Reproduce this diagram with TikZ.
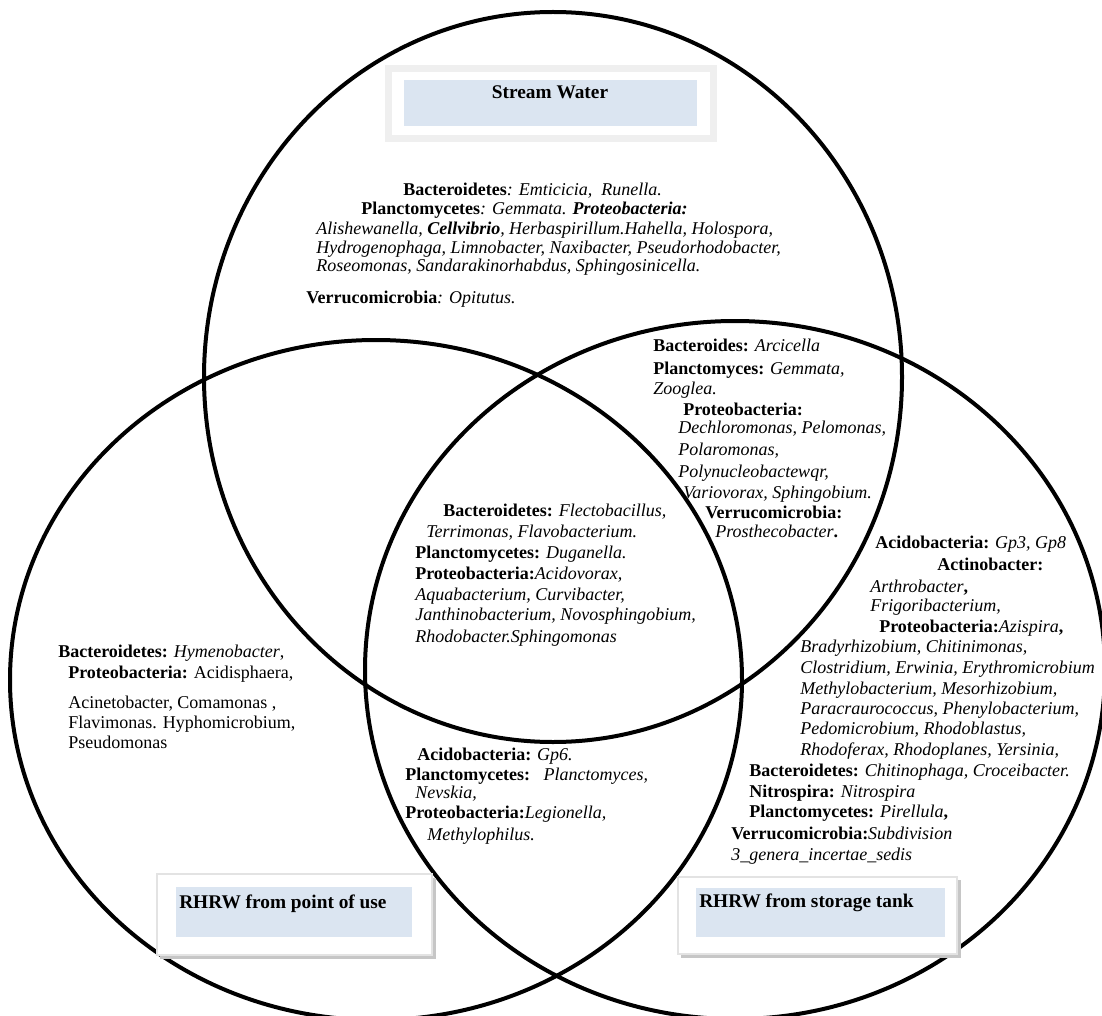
\documentclass[tikz,border=0pt]{standalone}
\usepackage{fontspec}
\setmainfont{Liberation Serif}
\definecolor{boxblue}{HTML}{DBE5F1}
\definecolor{framegray}{HTML}{EFEFEF}
\begin{document}
\begin{tikzpicture}[x=0.75pt,y=-0.75pt,
  ring/.style={draw=black,line width=3pt},
  txt/.style={anchor=base west,inner sep=0pt,font=\fontsize{13.5}{16}\selectfont},
  lbl/.style={inner sep=0pt,font=\fontsize{14.5}{17}\selectfont\bfseries},
  shadowbox/.style={fill=gray!45},
  outerbox/.style={fill=white,draw=gray!22,line width=1pt},
  bluebox/.style={fill=boxblue}]
\path[use as bounding box] (0,0) rectangle (1102,1016);
\clip (0,0) rectangle (1102,1016);

% circles
\draw[ring] (553,377) ellipse [x radius=261.75pt, y radius=273.75pt];
\draw[ring] (376,680) ellipse [x radius=274.5pt, y radius=255pt];
\draw[ring] (735,670) ellipse [x radius=277.5pt, y radius=261.75pt];

% Stream Water box
\fill[framegray] (385,65) rectangle (717,142);
\fill[white] (392,72) rectangle (710,135);
\fill[bluebox] (404,80) rectangle (697,126);
\node[lbl,anchor=base] (sw) at (550,99) {Stream Water};

% RHRW from point of use
\fill[shadowbox] (160,878) rectangle (436,959);
\path[outerbox] (157,874) rectangle (432,955);
\fill[bluebox] (176,887) rectangle (412,937);
\node[lbl,anchor=base west] (pu) at (179,908) {RHRW from point of use};

% RHRW from storage tank
\fill[shadowbox] (681,880) rectangle (961,958);
\path[outerbox] (678,877) rectangle (957,954);
\fill[bluebox] (696,888) rectangle (945,937);
\node[lbl,anchor=base west] (st) at (699,907) {RHRW from storage tank};

% Stream water only
\node[txt] (s1) at (403,196) {\textbf{Bacteroidetes}\textit{: Emticicia,\ \ Runella.}};
\node[txt] (s2) at (361,215) {\textbf{Planctomycetes}\textit{: Gemmata. \textbf{Proteobacteria:}}};
\node[txt] (s3) at (316,234) {\textit{Alishewanella, \textbf{Cellvibrio}, Herbaspirillum.Hahella, Holospora,}};
\node[txt] (s4) at (316,253) {\textit{Hydrogenophaga, Limnobacter, Naxibacter, Pseudorhodobacter,}};
\node[txt] (s5) at (316,272) {\textit{Roseomonas, Sandarakinorhabdus, Sphingosinicella.}};
\node[txt] (s6) at (306,303) {\textbf{Verrucomicrobia}\textit{: Opitutus.}};

% Stream water and storage tank
\node[txt] (a1) at (653,351) {\textbf{Bacteroides:} \textit{Arcicella}};
\node[txt] (a2) at (653,374) {\textbf{Planctomyces:} \textit{Gemmata,}};
\node[txt] (a3) at (653,394) {\textit{Zooglea.}};
\node[txt] (a4) at (683,415) {\textbf{Proteobacteria:}};
\node[txt] (a5) at (678,433) {\textit{Dechloromonas, Pelomonas,}};
\node[txt] (a6) at (678,455) {\textit{Polaromonas,}};
\node[txt] (a7) at (678,477) {\textit{Polynucleobactewqr,}};
\node[txt] (a8) at (683,498) {\textit{Variovorax, Sphingobium.}};
\node[txt] (a9) at (705,518) {\textbf{Verrucomicrobia:}};
\node[txt] (a10) at (715,537) {\textit{Prosthecobacter}\textbf{.}};

% all three
\node[txt] (c1) at (443,516) {\textbf{Bacteroidetes:} \textit{Flectobacillus,}};
\node[txt] (c2) at (426,537) {\textit{Terrimonas, Flavobacterium.}};
\node[txt] (c3) at (415,558) {\textbf{Planctomycetes:} \textit{Duganella.}};
\node[txt] (c4) at (415,579) {\textbf{Proteobacteria:}\textit{Acidovorax,}};
\node[txt] (c5) at (415,600) {\textit{Aquabacterium, Curvibacter,}};
\node[txt] (c6) at (415,620) {\textit{Janthinobacterium, Novosphingobium,}};
\node[txt] (c7) at (415,642) {\textit{Rhodobacter.Sphingomonas}};

% storage tank only
\node[txt] (r1) at (875,548) {\textbf{Acidobacteria:} \textit{Gp3, Gp8}};
\node[txt] (r2) at (937,570) {\textbf{Actinobacter:}};
\node[txt] (r3) at (870,592) {\textit{Arthrobacter}\textbf{,}};
\node[txt] (r4) at (870,611) {\textit{Frigoribacterium,}};
\node[txt] (r5) at (879,632) {\textbf{Proteobacteria:}\textit{Azispira}\textbf{,}};
\node[txt] (r6) at (800,652) {\textit{Bradyrhizobium, Chitinimonas,}};
\node[txt] (r7) at (800,673) {\textit{Clostridium, Erwinia, Erythromicrobium}};
\node[txt] (r8) at (800,694) {\textit{Methylobacterium, Mesorhizobium,}};
\node[txt] (r9) at (800,714) {\textit{Paracraurococcus, Phenylobacterium,}};
\node[txt] (r10) at (800,734) {\textit{Pedomicrobium, Rhodoblastus,}};
\node[txt] (r11) at (800,755) {\textit{Rhodoferax, Rhodoplanes, Yersinia,}};
\node[txt] (r12) at (749,776) {\textbf{Bacteroidetes:} \textit{Chitinophaga, Croceibacter.}};
\node[txt] (r13) at (749,797) {\textbf{Nitrospira:} \textit{Nitrospira}};
\node[txt] (r14) at (749,817) {\textbf{Planctomycetes:} \textit{Pirellula}\textbf{,}};
\node[txt] (r15) at (731,839) {\textbf{Verrucomicrobia:}\textit{Subdivision}};
\node[txt] (r16) at (731,860) {\textit{3\_genera\_incertae\_sedis}};

% point of use only
\node[txt] (l1) at (58,657) {\textbf{Bacteroidetes:} \textit{Hymenobacter},};
\node[txt] (l2) at (68,678) {\textbf{Proteobacteria:} Acidisphaera,};
\node[txt] (l3) at (68,708) {Acinetobacter, Comamonas ,};
\node[txt] (l4) at (68,728) {Flavimonas. Hyphomicrobium,};
\node[txt] (l5) at (68,748) {Pseudomonas};

% point of use and storage tank
\node[txt] (b1) at (417,760) {\textbf{Acidobacteria:} \textit{Gp6.}};
\node[txt] (b2) at (405,780) {\textbf{Planctomycetes:}\ \ \ \textit{Planctomyces,}};
\node[txt] (b3) at (415,798) {\textit{Nevskia,}};
\node[txt] (b4) at (405,818) {\textbf{Proteobacteria:}\textit{Legionella,}};
\node[txt] (b5) at (427,840) {\textit{Methylophilus.}};
\end{tikzpicture}
\end{document}
